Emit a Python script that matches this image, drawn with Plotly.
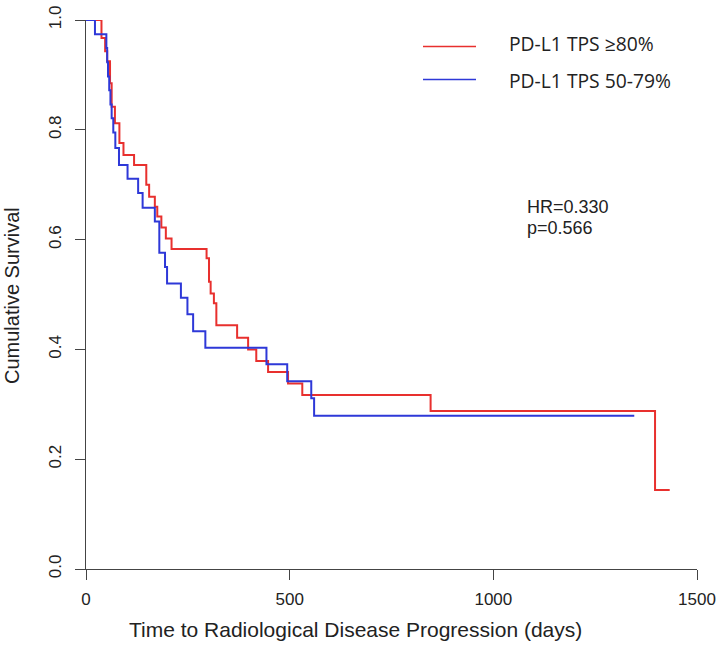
import plotly.graph_objects as go

# Kaplan-Meier step data (time in days, cumulative survival from that time onward)
red_days = [0, 38, 47, 52, 59, 63, 71, 82, 92, 118, 148, 155, 169, 175, 185, 196, 210,
            296, 302, 306, 314, 320, 371, 398, 418, 447, 496, 531, 846, 1397, 1433]
red_surv = [1.0, 0.967, 0.943, 0.925, 0.885, 0.842, 0.812, 0.776, 0.754, 0.736, 0.700, 0.678,
            0.660, 0.642, 0.622, 0.602, 0.583, 0.566, 0.523, 0.502, 0.484, 0.444, 0.421, 0.400,
            0.379, 0.359, 0.338, 0.317, 0.288, 0.144, 0.144]

blue_days = [0, 22, 50, 52, 54, 57, 60, 63, 67, 72, 81, 102, 128, 139, 169, 180, 194, 199,
             233, 249, 263, 293, 443, 494, 553, 560, 1346]
blue_surv = [1.0, 0.974, 0.949, 0.923, 0.897, 0.872, 0.846, 0.821, 0.795, 0.767, 0.736, 0.711,
             0.685, 0.658, 0.633, 0.576, 0.550, 0.520, 0.494, 0.464, 0.433, 0.403, 0.373, 0.342,
             0.311, 0.279, 0.279]

series_names = ["PD-L1 TPS ≥80%", "PD-L1 TPS 50-79%"]
series_colors = ["#E8302E", "#2E38D8"]

x_ticks = [0, 500, 1000, 1500]
y_ticks = [0.0, 0.2, 0.4, 0.6, 0.8, 1.0]
y_tick_labels = ["0.0", "0.2", "0.4", "0.6", "0.8", "1.0"]

stats_lines = ["HR=0.330", "p=0.566"]

fig = go.Figure()
for days, surv, name, color in [(red_days, red_surv, series_names[0], series_colors[0]),
                                (blue_days, blue_surv, series_names[1], series_colors[1])]:
    fig.add_trace(go.Scatter(
        x=days, y=surv, mode="lines", name=name, line_shape="hv",
        line=dict(color=color, width=2), cliponaxis=False, showlegend=False,
    ))

axis_font = dict(family="Liberation Sans, Arial, sans-serif", size=17, color="#222")
xtitle_font = dict(family="Liberation Sans, Arial, sans-serif", size=21, color="#222")
ytitle_font = dict(family="Liberation Sans, Arial, sans-serif", size=20, color="#222")

# plot area in page pixels: x 86..697, y 20..569
PL, PR, PT, PB = 86, 697, 20, 569
W, H = 717, 654

fig.update_layout(
    width=W, height=H,
    margin=dict(l=PL, r=W - PR, t=PT, b=H - PB),
    paper_bgcolor="white", plot_bgcolor="white",
    xaxis=dict(range=[0, 1500], tickvals=x_ticks, ticks="outside", ticklen=10,
               tickcolor="#444", showline=True, linecolor="#444", linewidth=1,
               showgrid=False, zeroline=False, tickfont=axis_font, automargin=False,
               ticklabelstandoff=5),
    yaxis=dict(range=[0, 1], tickvals=y_ticks, ticktext=y_tick_labels, ticks="outside",
               ticklen=10, tickcolor="#444", showline=True, linecolor="#444", linewidth=1,
               showgrid=False, zeroline=False, tickangle=-90, tickfont=axis_font,
               automargin=False, ticklabelstandoff=7),
)

# axis titles
fig.add_annotation(x=355, y=629, text="Time to Radiological Disease Progression (days)",
                   showarrow=False, font=xtitle_font, xanchor="center", yanchor="middle")
fig.add_annotation(x=12, y=296, text="Cumulative Survival", showarrow=False, font=ytitle_font,
                   textangle=-90, xanchor="center", yanchor="middle")

# legend (manual)
legend_font = dict(family="Open Sans, sans-serif", size=19.3, color="#222")
for i, (name, color) in enumerate(zip(series_names, series_colors)):
    ly = [46.5, 79.5][i]
    ty = [43, 80][i]
    fig.add_shape(type="line", x0=423, x1=476, y0=ly, y1=ly, line=dict(color=color, width=1.5))
    fig.add_annotation(x=507, y=ty, text=name, showarrow=False, font=legend_font,
                       xanchor="left", yanchor="middle")

for txt, ty in zip(stats_lines, [207, 228]):
    fig.add_annotation(x=525, y=ty, text=txt, showarrow=False, align="left",
                       font=dict(family="Liberation Sans, Arial, sans-serif", size=18, color="#222"),
                       xanchor="left", yanchor="middle")

# convert page-pixel positions of annotations/shapes to paper coordinates
def px_to_paper(x, y):
    return (x - PL) / (PR - PL), (PB - y) / (PB - PT)

for ann in fig.layout.annotations:
    ax, ay = px_to_paper(ann.x, ann.y)
    ann.x, ann.y = ax, ay
    ann.xref, ann.yref = "paper", "paper"
for shp in fig.layout.shapes:
    x0, y0 = px_to_paper(shp.x0, shp.y0)
    x1, y1 = px_to_paper(shp.x1, shp.y1)
    shp.x0, shp.y0, shp.x1, shp.y1 = x0, y0, x1, y1
    shp.xref, shp.yref = "paper", "paper"

fig.write_html("out.html", config={"displayModeBar": False},
               post_script="document.body.style.margin='0';")
